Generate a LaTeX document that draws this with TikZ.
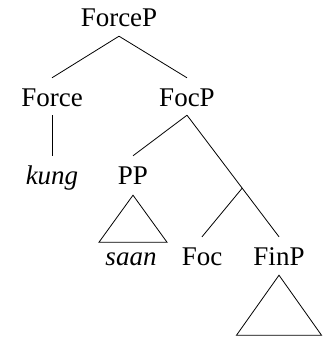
\documentclass[tikz,border=0pt]{standalone}
\usepackage{fontspec}
\setmainfont{Liberation Serif}
\usetikzlibrary{calc}
\begin{document}
\begin{tikzpicture}[x=1pt,y=-1pt,
  lbl/.style={anchor=base,inner xsep=0pt,inner ysep=9pt,text height=19pt,text depth=0pt,font=\fontsize{27}{32}\selectfont},
  edge/.style={line width=0.8pt}]
\useasboundingbox (0,0) rectangle (323,337);
\node[lbl] (forcep) at (119,27) {ForceP};
\node[lbl] (force) at (52,106) {Force};
\node[lbl] (focp) at (187,106) {FocP};
\node[lbl] (kung) at (52,184) {\itshape kung};
\node[lbl] (pp) at (133,184) {PP};
\node[lbl] (saan) at (131,265) {\itshape saan};
\node[lbl] (foc) at (202,265) {Foc};
\node[lbl] (finp) at (279,265) {FinP};
\coordinate (j) at ($(focp.south)!0.6!(finp.north)$);
\draw[edge] (forcep.south) -- (force.north);
\draw[edge] (forcep.south) -- (focp.north);
\draw[edge] (force.south) -- (kung.north);
\draw[edge] (focp.south) -- (pp.north);
\draw[edge] (focp.south) -- (finp.north);
\draw[edge] (j) -- (foc.north);
\draw[edge] (pp.south) ++(0,2) -- ++(-34,47) -- ++(68,0) -- cycle;
\draw[edge] (finp.south) ++(0,1) -- ++(-42.5,60) -- ++(85,0) -- cycle;
\end{tikzpicture}
\end{document}
